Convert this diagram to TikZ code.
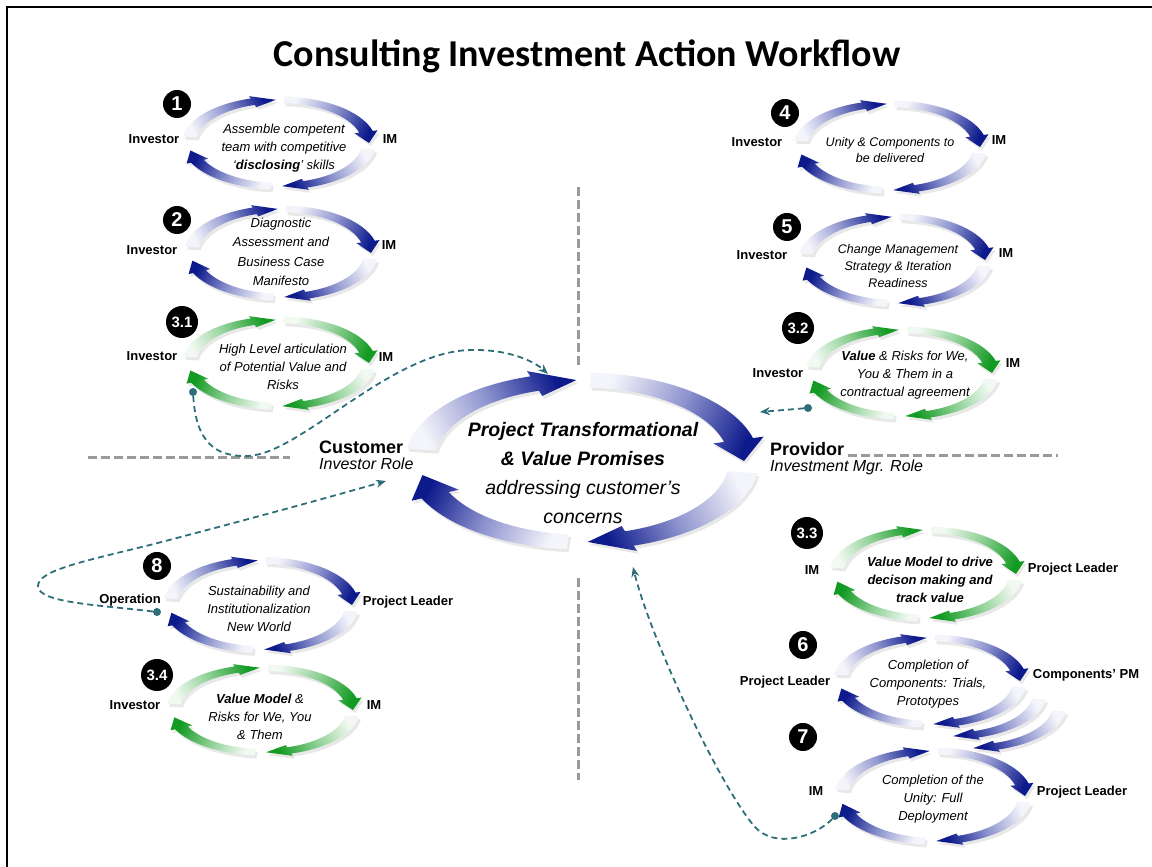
\documentclass[tikz,border=0pt]{standalone}
\usepackage{fontspec}
\setmainfont{Liberation Sans}
\newfontfamily\titlefont{Carlito}
\usepackage{tikz}
\usetikzlibrary{arrows.meta, positioning, shadows}

\definecolor{flownavy}{HTML}{0D1A8C}
\definecolor{flowmid}{HTML}{8E94CE}
\definecolor{flowpale}{HTML}{F4F4FB}
\definecolor{flowgreen}{HTML}{139A22}
\definecolor{flowmint}{HTML}{8CCF93}
\definecolor{flowpalegreen}{HTML}{F2F9F2}
\definecolor{linkteal}{HTML}{2E6E7A}
\definecolor{guidegray}{HTML}{9A9A9A}

% one curved arrow of a cycle: radius, half band, half head, from, to, head length, shading angle, style
\newcommand{\flowarrow}[8]{%
  \shade[#8, shading angle=#7]
    (#4:{#1+#2}) arc[start angle=#4, end angle={#5+#6}, radius={#1+#2}]
    -- ({#5+#6}:{#1+#3}) -- (#5:#1) -- ({#5+#6}:{#1-#3})
    -- ({#5+#6}:{#1-#2}) arc[start angle={#5+#6}, end angle=#4, radius={#1-#2}]
    -- cycle;}

% four arrows going clockwise round a flattened ring
\newcommand{\flowcycle}[6]{%
  \begin{scope}[shift={#1}, yscale=#3]
    \flowarrow{#2}{#4}{#5}{172}{92}{15}{-65}{#6}
    \flowarrow{#2}{#4}{#5}{87}{0}{15}{-115}{#6}
    \flowarrow{#2}{#4}{#5}{-8}{-88}{15}{115}{#6}
    \flowarrow{#2}{#4}{#5}{-95}{-170}{15}{65}{#6}
  \end{scope}}

\begin{document}
\begin{tikzpicture}[x=1pt, y=1pt,
    blueflow/.style={top color=flownavy, bottom color=flowpale, middle color=flowmid,
      drop shadow={opacity=0.18, shadow xshift=2pt, shadow yshift=-3pt}},
    greenflow/.style={top color=flowgreen, bottom color=flowpalegreen, middle color=flowmint,
      drop shadow={opacity=0.18, shadow xshift=2pt, shadow yshift=-3pt}},
    actor/.style={font=\fontsize{13}{15}\selectfont\bfseries},
    note/.style={font=\fontsize{13}{18}\selectfont\itshape, align=center},
    badge/.style={circle, fill=black, text=white, inner sep=1pt, minimum size=28pt,
      font=\fontsize{20}{20}\selectfont\bfseries},
    subbadge/.style={badge, minimum size=32pt, font=\fontsize{15}{15}\selectfont\bfseries},
    role/.style={font=\fontsize{18}{20}\selectfont\bfseries, inner sep=0pt},
    rolesub/.style={font=\fontsize{16}{18}\selectfont\itshape, inner sep=0pt},
    guide/.style={draw=guidegray, line width=3pt, dash pattern=on 9pt off 4pt},
    link/.style={draw=linkteal, line width=1.8pt, dash pattern=on 6pt off 4pt,
      -{Stealth[length=10pt, width=8pt]}},
    linkdot/.style={circle, fill=linkteal, inner sep=0pt, minimum size=8pt}]
  \useasboundingbox (0,0) rectangle (1152,867);
  \draw[line width=2.5pt] (1152,860) -- (7,860) -- (7,0);

  \node[font=\titlefont\bfseries\fontsize{38}{42}\selectfont] (heading) at (587,811)
    {Consulting Investment Action Workflow};

  % guide lines between the four quarters
  \draw[guide] (88,409) -- (290,409);
  \draw[guide] (848,411) -- (1058,411);
  \draw[guide] (578,680) -- (578,499);
  \draw[guide] (578,289) -- (578,87);

  % customer side
  \flowcycle{(279,724)}{90}{0.48}{7}{12}{blueflow}
  \flowcycle{(281,614)}{90}{0.49}{7}{12}{blueflow}
  \flowcycle{(279,504)}{90}{0.48}{7}{12}{greenflow}
  \flowcycle{(261,262)}{91}{0.49}{7}{12}{blueflow}
  \flowcycle{(263,157)}{90}{0.47}{7}{12}{greenflow}

  % provider side
  \flowcycle{(890,720)}{90}{0.48}{7}{12}{blueflow}
  \flowcycle{(895,607)}{90}{0.48}{7}{12}{blueflow}
  \flowcycle{(902,494)}{90}{0.48}{7}{12}{greenflow}
  \flowcycle{(926,293)}{90}{0.49}{7}{12}{greenflow}
  \begin{scope}[shift={(970,162)}, yscale=0.48]
    \flowarrow{90}{7}{12}{-8}{-88}{15}{115}{blueflow}
  \end{scope}
  \begin{scope}[shift={(950,174)}, yscale=0.48]
    \flowarrow{90}{7}{12}{-8}{-88}{15}{115}{blueflow}
  \end{scope}
  \flowcycle{(930,186)}{90}{0.48}{7}{12}{blueflow}
  \flowcycle{(933,71)}{92}{0.49}{7}{12}{blueflow}

  % centre
  \flowcycle{(582,406)}{162}{0.5}{15}{26}{blueflow}
  \node[font=\fontsize{19.5}{29}\selectfont\itshape, align=center] (promise) at (583,394)
    {\textbf{Project Transformational}\\\textbf{\& Value Promises}\\addressing customer’s\\concerns};
  \node[role, anchor=west] (cust) at (319,420) {Customer};
  \node[rolesub] (custrole) [below=4pt of cust.south west, anchor=north west] {Investor Role};
  \node[role, anchor=west] (prov) at (770,418) {Providor};
  \node[rolesub] (provrole) [below=4pt of prov.south west, anchor=north west] {Investment Mgr. Role};

  % 1
  \node[badge] (n1) at (177,763) {1};
  \node[actor] (inv1) at (154,728) {Investor};
  \node[actor] (im1) at (390,728) {IM};
  \node[note] (t1) at (284,719) {Assemble competent\\team with competitive\\‘\textbf{disclosing}’ skills};
  % 2
  \node[badge] (n2) at (177,647) {2};
  \node[actor] (inv2) at (152,617) {Investor};
  \node[actor] (im2) at (389,622) {IM};
  \node[note, font=\fontsize{13}{19.5}\selectfont\itshape] (t2) at (281,615)
    {Diagnostic\\Assessment and\\Business Case\\Manifesto};
  % 3.1
  \node[subbadge] (n31) at (182,545) {3.1};
  \node[actor] (inv31) at (152,511) {Investor};
  \node[actor] (im31) at (386,510) {IM};
  \node[note] (t31) at (283,500) {High Level articulation\\of Potential Value and\\Risks};
  % 8
  \node[badge] (n8) at (157,301) {8};
  \node[actor] (op8) at (130,267) {Operation};
  \node[actor] (pl8) at (408,265) {Project Leader};
  \node[note] (t8) at (259,258) {Sustainability and\\Institutionalization\\New World};
  % 3.4
  \node[subbadge] (n34) at (157,192) {3.4};
  \node[actor] (inv34) at (135,162) {Investor};
  \node[actor] (im34) at (374,162) {IM};
  \node[note] (t34) at (260,150) {\textbf{Value Model} \&\\Risks  for We, You\\\& Them};
  % 4
  \node[badge] (n4) at (785,754) {4};
  \node[actor] (inv4) at (757,725) {Investor};
  \node[actor] (im4) at (999,727) {IM};
  \node[note, font=\fontsize{12.5}{16}\selectfont\itshape] (t4) at (890,717)
    {Unity \& Components to\\be delivered};
  % 5
  \node[badge] (n5) at (787,640) {5};
  \node[actor] (inv5) at (762,612) {Investor};
  \node[actor] (im5) at (1006,614) {IM};
  \node[note, font=\fontsize{12.5}{17}\selectfont\itshape] (t5) at (898,601)
    {Change Management\\Strategy \& Iteration\\Readiness};
  % 3.2
  \node[subbadge] (n32) at (798,539) {3.2};
  \node[actor] (inv32) at (778,494) {Investor};
  \node[actor] (im32) at (1013,504) {IM};
  \node[note] (t32) at (905,492) {\textbf{Value} \& Risks  for We,\\You \& Them in a\\contractual agreement};
  % 3.3
  \node[subbadge] (n33) at (807,334) {3.3};
  \node[actor] (im33) at (812,297) {IM};
  \node[actor] (pl33) at (1073,298) {Project Leader};
  \node[note, font=\fontsize{13}{18}\selectfont\bfseries\itshape] (t33) at (930,287)
    {Value Model to drive\\decison making and\\track value};
  % 6
  \node[badge] (n6) at (803,222) {6};
  \node[actor] (pl6) at (785,185) {Project Leader};
  \node[actor] (pm6) at (1086,192) {Components’ PM};
  \node[note] (t6) at (928,183) {Completion of\\Components: Trials,\\Prototypes};
  % 7
  \node[badge] (n7) at (803,130) {7};
  \node[actor] (im7) at (816,76) {IM};
  \node[actor] (pl7) at (1082,75) {Project Leader};
  \node[note] (t7) at (933,68) {Completion of the\\Unity: Full\\Deployment};

  % dashed links
  \node[linkdot] (d31) at (193,475) {};
  \coordinate (e31) at (548,493);
  \draw[link] (d31) .. controls (196,425) and (215,410) .. (248,411)
    .. controls (300,413) and (390,515) .. (470,517)
    .. controls (510,518) and (535,505) .. (e31);
  \node[linkdot] (d32) at (808,459) {};
  \coordinate (e32) at (760,455);
  \draw[link] (d32) -- (e32);
  \node[linkdot] (d8) at (157,255) {};
  \coordinate (e8) at (386,386);
  \draw[link] (d8) .. controls (100,262) and (38,264) .. (38,281)
    .. controls (38,296) and (80,305) .. (150,322)
    .. controls (250,348) and (330,370) .. (e8);
  \node[linkdot] (d7) at (835,51) {};
  \coordinate (e7) at (633,300);
  \draw[link] (d7) .. controls (815,30) and (775,18) .. (755,40)
    .. controls (720,80) and (650,230) .. (e7);
\end{tikzpicture}
\end{document}
